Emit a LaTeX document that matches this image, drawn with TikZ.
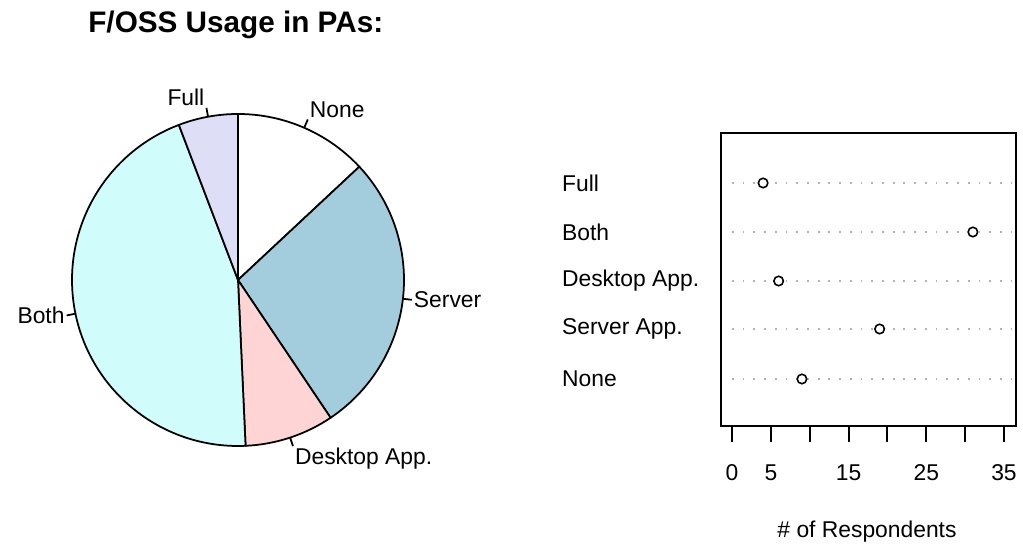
\documentclass[tikz,border=0pt]{standalone}
\usepackage{fontspec}
\setmainfont{Liberation Sans}
\usetikzlibrary{positioning}

\definecolor{slicenone}{HTML}{FFFFFF}
\definecolor{sliceserver}{HTML}{A3CDDD}
\definecolor{slicedesk}{HTML}{FFD4D4}
\definecolor{sliceboth}{HTML}{D0FCFC}
\definecolor{slicefull}{HTML}{DEDEF7}

\begin{document}
\begin{tikzpicture}[x=0.02cm,y=0.02cm]

    % Define style
    \tikzstyle{lbl} = [font=\fontsize{13pt}{15pt}\selectfont, inner sep=1pt]
    \tikzstyle{slice} = [draw=black, line width=1pt, line join=round]
    \tikzstyle{dotrow} = [gray!60, line width=1pt, dash pattern=on 1pt off 5.1pt]
    \tikzstyle{marker} = [circle, draw, line width=0.9pt, fill=white, inner sep=0pt, minimum size=0.19cm]

    \useasboundingbox (0,0) rectangle (1023,546);

    % Title
    \node[anchor=base west, inner sep=0pt, font=\bfseries\fontsize{16.9pt}{18pt}\selectfont] (title) at (88,513) {F/OSS Usage in PAs:};

    % Pie slices (clockwise from the top)
    \coordinate (c) at (238,266);
    \foreach \a/\b/\col in {90/43.04/slicenone, 43.04/-56.09/sliceserver, -56.09/-87.39/slicedesk, -87.39/-249.13/sliceboth, -249.13/-270/slicefull}
        \filldraw[slice, fill=\col] (c) -- ++(\a:166) arc[start angle=\a, end angle=\b, radius=166] -- cycle;

    % Slice labels
    \foreach \m/\txt/\anc/\nm in {66.5/None/south west/lnone, -6.5/Server/west/lserver, -71.7/Desktop App./north west/ldesk, 191.7/Both/east/lboth, 100.4/Full/south east/lfull} {
        \path (c) ++(\m:166) coordinate (\nm a) ++(\m:9) coordinate (\nm b);
        \draw[slice] (\nm a) -- (\nm b);
        \node[lbl, anchor=\anc] (\nm) at (\nm b) {\txt};
    }

    % Dot plot
    \draw[line width=1.2pt] (721,120) rectangle (1016,413);
    \foreach \y/\v/\txt/\nm in {363/4/Full/rfull, 314/31/Both/rboth, 265/6/Desktop App./rdesk, 217/19/Server App./rserver, 167/9/None/rnone} {
        \node[lbl, anchor=west] (\nm) at (560,\y) {\txt};
        \draw[dotrow] (732,\y) -- (1013,\y);
        \node[marker] (\nm pt) at ({732+7.77*\v},\y) {};
    }

    % Axis
    \foreach \v in {0,5,...,35}
        \draw[line width=1.1pt] ({732+7.77*\v},120) -- ++(0,-16);
    \foreach \v in {0,5,15,25,35}
        \node[lbl] (x\v) at ({732+7.77*\v},73) {\v};
    \node[lbl] (xlabel) at (867,14) {\# of Respondents};

\end{tikzpicture}
\end{document}
